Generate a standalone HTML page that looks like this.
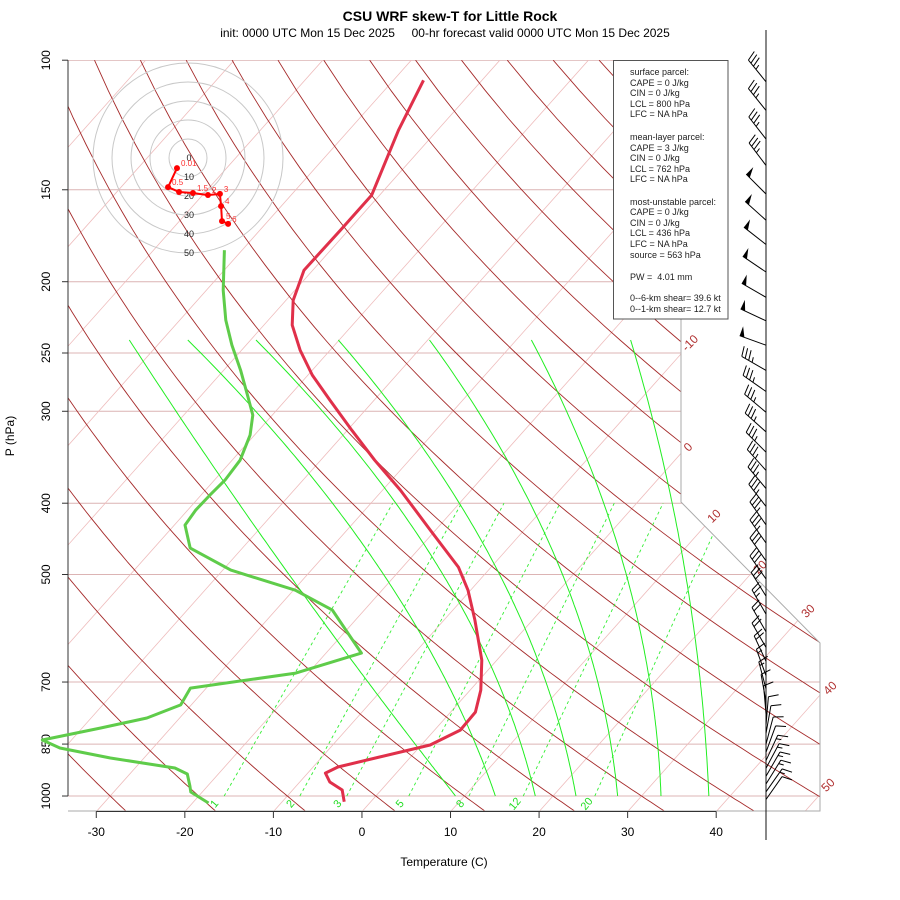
<!DOCTYPE html>
<html><head><meta charset="utf-8"><style>
html,body{margin:0;padding:0;background:#fff;}
svg{display:block;font-family:"Liberation Sans",sans-serif;}
</style></head><body>
<svg id="chart" width="900" height="900" viewBox="0 0 900 900">
<defs><clipPath id="plotclip"><polygon points="68,60 681,60 681,502 820,643 820,811 68,811"/></clipPath></defs>
<text x="450" y="21" text-anchor="middle" font-size="14" font-weight="bold">CSU WRF skew-T for Little Rock</text>
<text x="445" y="37" text-anchor="middle" font-size="12" xml:space="preserve">init: 0000 UTC Mon 15 Dec 2025     00-hr forecast valid 0000 UTC Mon 15 Dec 2025</text>
<text transform="translate(14,436) rotate(-90)" text-anchor="middle" font-size="12">P (hPa)</text>
<text x="444" y="866" text-anchor="middle" font-size="12">Temperature (C)</text>
<g id="grid" clip-path="url(#plotclip)"></g>
<g id="axes"></g>
<g id="profiles"></g>
<g id="hodo"></g>
<g id="barbs"></g>
<g id="stats">
<rect x="613.5" y="60.5" width="114.5" height="258.5" fill="#fff" stroke="#555" stroke-width="1"/>
<g font-size="9" fill="#222">
<text x="630" y="75">surface parcel:</text>
<text x="630" y="86">CAPE = 0 J/kg</text>
<text x="630" y="96">CIN = 0 J/kg</text>
<text x="630" y="107">LCL = 800 hPa</text>
<text x="630" y="117">LFC = NA hPa</text>
<text x="630" y="140">mean-layer parcel:</text>
<text x="630" y="151">CAPE = 3 J/kg</text>
<text x="630" y="161">CIN = 0 J/kg</text>
<text x="630" y="172">LCL = 762 hPa</text>
<text x="630" y="182">LFC = NA hPa</text>
<text x="630" y="205">most-unstable parcel:</text>
<text x="630" y="215">CAPE = 0 J/kg</text>
<text x="630" y="226">CIN = 0 J/kg</text>
<text x="630" y="236">LCL = 436 hPa</text>
<text x="630" y="247">LFC = NA hPa</text>
<text x="630" y="258">source = 563 hPa</text>
<text x="630" y="280" xml:space="preserve">PW =  4.01 mm</text>
<text x="630" y="301">0--6-km shear= 39.6 kt</text>
<text x="630" y="312">0--1-km shear= 12.7 kt</text>
</g></g>
</svg>
<script>
// ---- data ----
const tempP = [106.5,124.5,152.5,170.2,192.9,211.9,229.1,247.7,267.9,289.7,318.3,349.6,383.9,435.1,488.5,525.1,576.7,653.6,717.8,769,813.5,852.5,885.1,913.3,930.7,957.2,981.3,1018];
const tempT = [-66.6,-64.4,-60.9,-60.9,-61.0,-59.2,-56.8,-53.4,-49.5,-45.0,-39.5,-33.9,-28.0,-20.6,-13.7,-10.3,-6.5,-1.7,1.2,2.8,2.9,1.0,-3.5,-7.2,-8.0,-6.6,-4.4,-3.0];
const dewP = [181.2,205.4,225.6,243.9,263.8,285.3,303.6,323.2,349.6,372.1,390,408.8,428.3,460.3,493.1,525.1,558.9,639.4,680.7,713.3,752,783.4,808.4,839.2,860.6,887.8,916.2,933.5,969.2,987.6,1022];
const dewT = [-72.0,-68.1,-64.8,-61.6,-58.1,-54.8,-52.2,-50.5,-49.1,-48.8,-49.0,-49.1,-48.8,-45.9,-39.1,-29.8,-23.6,-16.0,-21.4,-31.8,-31.2,-33.7,-37.9,-43.3,-40.5,-33.8,-25.5,-23.5,-22.0,-21.3,-18.2];
const xTicks = [-30,-20,-10,0,10,20,30,40];
const pTicks = [100,150,200,250,300,400,500,700,850,1000];
const mixRatios = [1,2,3,5,8,12,20];
// moist adiabat knots: temperature at 1000, mid level, 240 hPa
const moistBottom = [9.0,13.5,18.0,22.6,27.3,32.2,37.6];
const moistMidP = [520,500,500,500,500,500,500];
const moistMid = [-29.8,-21.4,-14.7,-8.3,-1.2,6.0,12.7];
const moistTop = [-73.7,-67.1,-59.4,-50.1,-39.8,-28.3,-17.1];
const isoLabels = [-10,0,10,20,30,40,50];
const hodoU = [-5.8,-10.5,-4.7,2.6,10.5,16.8,17.4,17.9,21.1];
const hodoV = [-5.3,-15.3,-17.9,-18.4,-19.5,-18.9,-25.3,-33.2,-34.7];
const hodoLabels = ["0.01","0.5","","1.5","2","3","4","5","6"];
const ringKt = [10,20,30,40,50];
const windP = [107,117,128,139,152,165,178,194,210,226,244,264,282,301,320,341,361,382,404,428,453,479,507,535,566,598,628,656,686,715,745,773,800,822,850,872,895,917,940,963,987,1011];
const windSpd = [35,35,35,35,50,50,50,50,50,50,50,35,35,35,35,35,35,35,35,35,35,30,30,30,25,20,20,20,15,15,10,10,10,10,10,10,15,15,15,15,15,10];
const windDir = [321,321,322,323,315,312,308,304,300,295,290,300,305,310,312,315,318,320,322,325,325,325,325,328,330,330,330,335,340,345,350,355,5,10,15,20,25,28,30,32,35,35];

// ---- scales ----
function yp(p){return 132.182-44.061*Math.log10(p);}
function Y(p){return 796-16.70*yp(p);}
function X(T,p){return 362+16.40*(0.54*T+0.90692*yp(p)+0.845);}
const NS="http://www.w3.org/2000/svg";
function mk(tag,attrs,parent){const e=document.createElementNS(NS,tag);for(const k in attrs)e.setAttribute(k,attrs[k]);parent.appendChild(e);return e;}
function pathD(pts){return pts.map((q,i)=>(i?'L':'M')+q[0].toFixed(1)+','+q[1].toFixed(1)).join('');}
const grid=document.getElementById('grid'),axes=document.getElementById('axes'),prof=document.getElementById('profiles');
const hodo=document.getElementById('hodo'),barbs=document.getElementById('barbs');

// isobars
for(const p of pTicks.concat([1050])){
  const l=mk('line',{x1:60,x2:830,y1:Y(p),y2:Y(p),stroke:'#dcb4b4','stroke-width':1},grid);
  
  
}
// isotherms
for(let T=-130;T<=50;T+=10){
  const l=mk('line',{x1:X(T,1050),y1:Y(1050),x2:X(T,100),y2:Y(100),stroke:'#eebcbc','stroke-width':0.8},grid);
  
  
}
// dry adiabats
for(let th=-40;th<=170;th+=10){
  const pts=[];for(let p=1050;p>=100;p-=10){const T=(th+273.15)*Math.pow(p/1000,0.2857)-273.15;pts.push([X(T,p),Y(p)]);}
  const l=mk('path',{d:pathD(pts),fill:'none',stroke:'#a52a2a','stroke-width':0.9},grid);
  
  
}
// mixing ratio lines
function tdFromW(w,p){const e=w*p/(622+w);const a=Math.log(e/6.112);return 243.5*a/(17.67-a);}
mixRatios.forEach(w=>{
  const l=mk('line',{x1:X(tdFromW(w,1000),1000),y1:Y(1000),x2:X(tdFromW(w,400),400),y2:Y(400),stroke:'#33ee33','stroke-width':0.9,'stroke-dasharray':'3,3'},grid);
  
  
  const lx=X(tdFromW(w,1040),1040),ly=806;
  const t=mk('text',{x:lx,y:ly,'font-size':11,fill:'#22dd22','text-anchor':'middle',transform:'rotate(-50 '+lx+' '+ly+')'},axes);
  t.textContent=w;
  
  
});
// moist adiabats (quadratic in log p through three knots)
moistBottom.forEach((Tb,i)=>{
  const xs=[Math.log(1000),Math.log(moistMidP[i]),Math.log(240)],ts=[Tb,moistMid[i],moistTop[i]];
  function interp(lp){let s=0;for(let a=0;a<3;a++){let t=ts[a];for(let b=0;b<3;b++)if(b!==a)t*=(lp-xs[b])/(xs[a]-xs[b]);s+=t;}return s;}
  const pts=[];for(let p=1000;p>=240;p-=5){pts.push([X(interp(Math.log(p)),p),Y(p)]);}
  const l=mk('path',{d:pathD(pts),fill:'none',stroke:'#22ee22','stroke-width':1},grid);
  
  
});
// right boundary
const bnd=mk('polyline',{points:'681,60 681,502 820,643 820,811 68,811',fill:'none',stroke:'#aaa','stroke-width':1},axes);


// isotherm labels
const isoPos=[[690,343],[688,447],[714,516],[760,567],[808,611],[830,688],[828,785]];
isoLabels.forEach((v,i)=>{
  const [lx,ly]=isoPos[i];
  const t=mk('text',{x:lx,y:ly+4,'font-size':12,fill:'#b03030','text-anchor':'middle',transform:'rotate(-45 '+lx+' '+ly+')'},axes);
  t.textContent=v;
  
  
});
// axes
mk('line',{x1:68,x2:68,y1:Y(100),y2:Y(1000),stroke:'#333','stroke-width':1},axes);
pTicks.forEach(p=>{
  mk('line',{x1:62,x2:68,y1:Y(p),y2:Y(p),stroke:'#333'},axes);
  const lx=50,ly=Y(p);
  const t=mk('text',{x:lx,y:ly,'font-size':12,'text-anchor':'middle',transform:'rotate(-90 '+lx+' '+ly+')'},axes);
  t.textContent=p;
  
  
});
mk('line',{x1:X(xTicks[0],1050),x2:X(xTicks[xTicks.length-1],1050),y1:811.5,y2:811.5,stroke:'#333'},axes);
xTicks.forEach(T=>{
  const x=X(T,1050);
  mk('line',{x1:x,x2:x,y1:811.5,y2:818,stroke:'#333'},axes);
  const t=mk('text',{x:x,y:836,'font-size':12,'text-anchor':'middle'},axes);
  t.textContent=T;
  
  
});
// profiles
const tl=mk('path',{d:pathD(tempP.map((p,i)=>[X(tempT[i],p),Y(p)])),fill:'none',stroke:'#e0304a','stroke-width':3,'stroke-linejoin':'round'},prof);


const dl=mk('path',{d:pathD(dewP.map((p,i)=>[X(dewT[i],p),Y(p)])),fill:'none',stroke:'#5fcc4a','stroke-width':3,'stroke-linejoin':'round'},prof);


// hodograph
const hc=[188,158],ks=1.9;
ringKt.forEach(k=>{
  const c=mk('circle',{cx:hc[0],cy:hc[1],r:k*ks,fill:'none',stroke:'#c8c8c8','stroke-width':1},hodo);
  
  
  const t=mk('text',{x:hc[0]+1,y:hc[1]+k*ks+3,'font-size':9,'text-anchor':'middle',fill:'#222'},hodo);
  t.textContent=k;
});
const h0=mk('text',{x:hc[0]+1,y:hc[1]+3,'font-size':9,'text-anchor':'middle',fill:'#222'},hodo);h0.textContent='0';
const hp=hodoU.map((u,i)=>[hc[0]+u*ks,hc[1]-hodoV[i]*ks]);
const hl=mk('path',{d:pathD(hp),fill:'none',stroke:'#ff0000','stroke-width':2},hodo);


hp.forEach((q,i)=>{
  const c=mk('circle',{cx:q[0],cy:q[1],r:3,fill:'#ff0000'},hodo);
  
  
  if(hodoLabels[i]){const t=mk('text',{x:q[0]+4,y:q[1]-2,'font-size':8,fill:'#ff3030'},hodo);t.textContent=hodoLabels[i];}
});
// wind barbs
mk('line',{x1:766,x2:766,y1:30,y2:840,stroke:'#111','stroke-width':1},barbs);
windP.forEach((p,i)=>{
  const d=windDir[i]*Math.PI/180,ux=Math.sin(d),uy=-Math.cos(d);
  const bx=766,by=Y(p),L=28;
  const tx=bx+L*ux,ty=by+L*uy;
  const px=-uy,py=ux;
  let s='M'+bx+','+by.toFixed(1)+'L'+tx.toFixed(1)+','+ty.toFixed(1);
  let spd=windSpd[i],pos=0;
  const g=mk('g',{},barbs);
  
  
  while(spd>=50){
    const ax=tx-ux*pos,ay=ty-uy*pos;
    mk('polygon',{points:ax+','+ay+' '+(ax+px*10)+','+(ay+py*10)+' '+(ax-ux*5)+','+(ay-uy*5),fill:'#000'},g);
    pos+=7;spd-=50;
  }
  while(spd>=10){
    const ax=tx-ux*pos,ay=ty-uy*pos;
    s+='M'+ax.toFixed(1)+','+ay.toFixed(1)+'l'+(px*10+ux*3).toFixed(1)+','+(py*10+uy*3).toFixed(1);
    pos+=4;spd-=10;
  }
  if(spd>=5){
    const ax=tx-ux*pos,ay=ty-uy*pos;
    s+='M'+ax.toFixed(1)+','+ay.toFixed(1)+'l'+(px*5+ux*1.5).toFixed(1)+','+(py*5+uy*1.5).toFixed(1);
  }
  mk('path',{d:s,fill:'none',stroke:'#000','stroke-width':1},g);
});
</script>
</body></html>
